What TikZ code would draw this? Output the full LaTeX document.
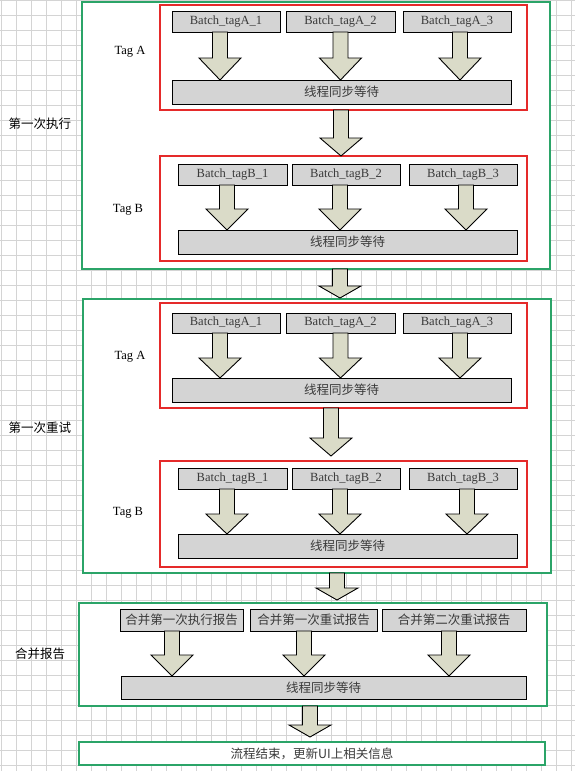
\documentclass[tikz,border=0pt]{standalone}
\usepackage{fontspec}
\setmainfont{Liberation Serif}
\newfontfamily\lat{Liberation Serif}
\newfontfamily\cjk{Noto Sans CJK SC}
\usetikzlibrary{calc}
\definecolor{gridc}{HTML}{D4D4D4}
\definecolor{grn}{HTML}{2BA468}
\definecolor{rd}{HTML}{E52A2A}
\definecolor{boxf}{HTML}{D4D4D4}
\definecolor{arrf}{HTML}{DADBC8}
\definecolor{txt}{HTML}{3A3A3A}
\tikzset{
  bbox/.style={draw=black, fill=boxf, line width=1pt, inner sep=0pt, outer sep=0pt, text=txt},
  latin/.style={font=\lat\fontsize{12.5}{14}\selectfont},
  cjkf/.style={font=\cjk\fontsize{12.5}{14}\selectfont},
  greenbox/.style={draw=grn, line width=2.6pt, fill=white, inner sep=0pt, outer sep=0pt},
  redbox/.style={draw=rd, line width=1.8pt, fill=white, inner sep=0pt, outer sep=0pt},
  barrowstyle/.style={draw=black, fill=arrf, line width=0.9pt, line join=miter},
  lbl/.style={text=black, inner sep=0pt},
  gridline/.style={draw=gridc, line width=0.8pt},
}
% style, name, x1, y1, x2, y2, text
\newcommand\rn[7]{\node[#1, minimum width={#5pt-#3pt}, minimum height={#6pt-#4pt}] (#2) at ({(#3+#5)/2},{(#4+#6)/2}) {#7};}
% start, tip, head length
\newcommand\barrow[3]{\draw[barrowstyle] let \p1=(#1), \p2=(#2) in
  (\x1-7.5pt,\y1) -- (\x1-7.5pt,\y2+#3pt) -- (\x1-21pt,\y2+#3pt) -- (\x1,\y2) --
  (\x1+21pt,\y2+#3pt) -- (\x1+7.5pt,\y2+#3pt) -- (\x1+7.5pt,\y1) -- cycle;}
\begin{document}
\begin{tikzpicture}[x=1pt, y=-1pt]
\fill[white] (0,0) rectangle (575,771);
\useasboundingbox (0,0) rectangle (575,771);
\foreach \gx in {1,16,...,571} \draw[gridline] (\gx,0) -- (\gx,771);
\foreach \gy in {0,15,...,765} \draw[gridline] (0,\gy) -- (575,\gy);

% ---------- first run ----------
\rn{greenbox}{g1}{82}{2}{550}{269}{}
\rn{redbox}{rA1}{160}{5}{527}{110}{}
\rn{bbox,latin}{a11}{172}{11}{280}{32}{Batch\_tagA\_1}
\rn{bbox,latin}{a12}{286}{11}{395}{32}{Batch\_tagA\_2}
\rn{bbox,latin}{a13}{403}{11}{511}{32}{Batch\_tagA\_3}
\rn{bbox,cjkf}{sA1}{172}{80}{511}{104}{线程同步等待}
\barrow{[xshift=-6pt]a11.south}{sA1.north}{22}
\barrow{a12.south}{sA1.north}{22}
\barrow{[xshift=3pt]a13.south}{sA1.north}{22}

\rn{redbox}{rB1}{160}{156}{527}{261}{}
\rn{bbox,latin}{b11}{178}{164}{287}{185}{Batch\_tagB\_1}
\rn{bbox,latin}{b12}{292}{164}{400}{185}{Batch\_tagB\_2}
\rn{bbox,latin}{b13}{409}{164}{517}{185}{Batch\_tagB\_3}
\rn{bbox,cjkf}{sB1}{178}{230}{517}{254}{线程同步等待}
\barrow{[xshift=-5.5pt]b11.south}{sB1.north}{21}
\barrow{[xshift=-6pt]b12.south}{sB1.north}{21}
\barrow{[xshift=3pt]b13.south}{sB1.north}{21}
\barrow{[xshift=-2.5pt]rA1.south}{rB1.north}{18}

\node[lbl,latin] (tA1) at (130,52) {Tag A};
\node[lbl,latin] (tB1) at (128,210) {Tag B};
\node[lbl,cjkf] (l1) at (40,124) {第一次执行};

% ---------- first retry ----------
\rn{greenbox}{g2}{83}{299}{551}{573}{}
\rn{redbox}{rA2}{160}{303}{527}{408}{}
\rn{bbox,latin}{a21}{172}{313}{280}{333}{Batch\_tagA\_1}
\rn{bbox,latin}{a22}{286}{313}{395}{333}{Batch\_tagA\_2}
\rn{bbox,latin}{a23}{403}{313}{511}{333}{Batch\_tagA\_3}
\rn{bbox,cjkf}{sA2}{172}{378}{511}{402}{线程同步等待}
\barrow{[xshift=-6pt]a21.south}{sA2.north}{20}
\barrow{a22.south}{sA2.north}{20}
\barrow{[xshift=3pt]a23.south}{sA2.north}{20}

\rn{redbox}{rB2}{160}{461}{527}{567}{}
\rn{bbox,latin}{b21}{178}{468}{287}{489}{Batch\_tagB\_1}
\rn{bbox,latin}{b22}{292}{468}{400}{489}{Batch\_tagB\_2}
\rn{bbox,latin}{b23}{409}{468}{517}{489}{Batch\_tagB\_3}
\rn{bbox,cjkf}{sB2}{178}{534}{517}{558}{线程同步等待}
\barrow{[xshift=-5.5pt]b21.south}{sB2.north}{20}
\barrow{[xshift=-6pt]b22.south}{sB2.north}{20}
\barrow{[xshift=4pt]b23.south}{sB2.north}{20}
\barrow{[xshift=-12.5pt]rA2.south}{[yshift=5pt]rB2.north}{18}

\node[lbl,latin] (tA2) at (130,357) {Tag A};
\node[lbl,latin] (tB2) at (128,513) {Tag B};
\node[lbl,cjkf] (l2) at (40,428) {第一次重试};

% ---------- merge ----------
\rn{greenbox}{g3}{79}{603}{547}{706}{}
\rn{bbox,cjkf}{m1}{120}{609}{243}{631}{合并第一次执行报告}
\rn{bbox,cjkf}{m2}{250}{609}{377}{631}{合并第一次重试报告}
\rn{bbox,cjkf}{m3}{382}{609}{526}{631}{合并第二次重试报告}
\rn{bbox,cjkf}{sM}{121}{676}{526}{699}{线程同步等待}
\barrow{[xshift=-9.5pt]m1.south}{sM.north}{21}
\barrow{[xshift=-9.5pt]m2.south}{sM.north}{21}
\barrow{[xshift=-5pt]m3.south}{sM.north}{21}
\node[lbl,cjkf] (l3) at (40,654) {合并报告};

% ---------- end ----------
\rn{greenbox}{fin}{79}{742}{545}{765}{}
\node[cjkf, text=txt] (fint) at (fin.center) {流程结束，更新UI上相关信息};

% ---------- connectors between stages ----------
\barrow{[xshift=24pt]g1.south}{[yshift=1pt]g2.north}{12}
\barrow{[xshift=20pt]g2.south}{[yshift=3pt]g3.north}{12}
\barrow{[xshift=-3pt]g3.south}{[yshift=5pt]fin.north}{12}
\end{tikzpicture}
\end{document}
